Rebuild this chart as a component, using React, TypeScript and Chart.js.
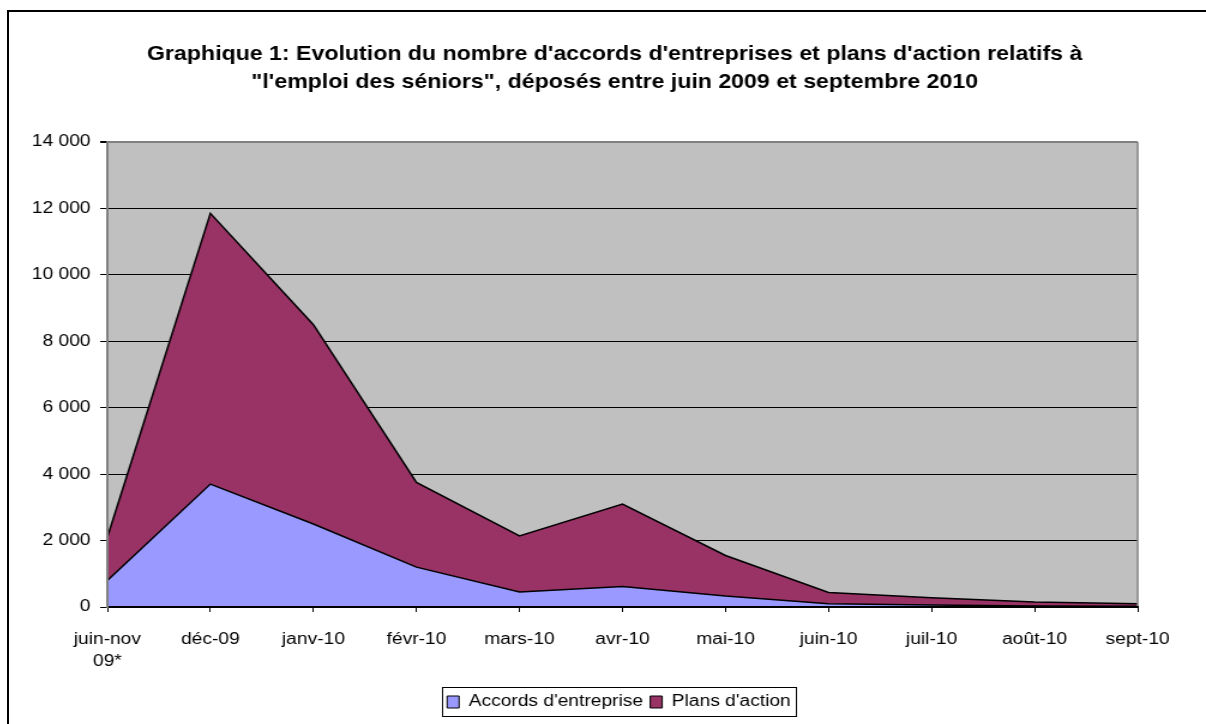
import React, { useEffect, useRef } from 'react';
import { Chart, registerables } from 'chart.js';

Chart.register(...registerables);

const categories: (string | string[])[] = [
  ['juin-nov', '09*'], 'déc-09', 'janv-10', 'févr-10', 'mars-10', 'avr-10',
  'mai-10', 'juin-10', 'juil-10', 'août-10', 'sept-10',
];
const accords = [800, 3700, 2500, 1200, 450, 620, 330, 100, 60, 30, 20];
const plans = [1300, 8150, 6000, 2550, 1690, 2480, 1220, 340, 220, 120, 80];
const seriesNames = ["Accords d'entreprise", "Plans d'action"];
const titleLines = [
  "Graphique 1: Evolution du nombre d'accords d'entreprises et plans d'action relatifs à",
  "\"l'emploi des séniors\", déposés entre juin 2009 et septembre 2010",
];
const yMin = 0;
const yMax = 14000;
const yStep = 2000;

const FONT = "'Liberation Sans', Arial, sans-serif";
const BMP_W = 998;
const BMP_H = 712;

const fmt = (v: number) => String(v).replace(/\B(?=(\d{3})+(?!\d))/g, ' ');

const plotBackground = {
  id: 'plotBackground',
  afterLayout(chart: any) {
    // centre title and legend over the same spot as the reference
    const t = chart.titleBlock;
    if (t) {
      t.left += 34.5;
      t.right += 34.5;
    }
    const lg = chart.legend;
    if (lg) {
      lg.left += 38;
      lg.right += 38;
    }
  },
  beforeDraw(chart: any) {
    const { ctx, chartArea: a } = chart;
    ctx.save();
    ctx.fillStyle = '#C0C0C0';
    ctx.fillRect(a.left, a.top, a.right - a.left, a.bottom - a.top);
    ctx.restore();
  },
  afterDatasetsDraw(chart: any) {
    const { ctx, chartArea: a } = chart;
    ctx.save();
    ctx.strokeStyle = '#808080';
    ctx.lineWidth = 1.5;
    ctx.beginPath();
    ctx.moveTo(a.right, a.top);
    ctx.lineTo(a.right, a.bottom);
    ctx.stroke();
    ctx.restore();
  },
};

const legendFrame = {
  id: 'legendFrame',
  afterDraw(chart: any) {
    const lg = chart.legend;
    if (!lg || !lg.legendHitBoxes || !lg.legendHitBoxes.length) return;
    const hb = lg.legendHitBoxes;
    const first = hb[0];
    const last = hb[hb.length - 1];
    const left = Math.round(first.left - 4) + 0.5;
    const right = Math.round(last.left + last.width + 4) + 0.5;
    const top = Math.round(first.top - 7) + 0.5;
    const bottom = Math.round(first.top + first.height + 6) + 0.5;
    const { ctx } = chart;
    ctx.save();
    ctx.strokeStyle = '#000';
    ctx.lineWidth = 1;
    ctx.strokeRect(left, top, right - left, bottom - top);
    ctx.restore();
  },
};

export default function App() {
  const ref = useRef<HTMLCanvasElement | null>(null);

  useEffect(() => {
    if (!ref.current) return;
    Chart.defaults.color = '#000';
    Chart.defaults.font.family = FONT;
    const chart = new Chart(ref.current, {
      type: 'line',
      data: {
        labels: categories as any,
        datasets: [
          {
            label: seriesNames[0],
            data: accords,
            backgroundColor: '#9999FF',
            borderColor: '#000',
            borderWidth: 1.5,
            fill: 'origin',
            pointRadius: 0,
            tension: 0,
          },
          {
            label: seriesNames[1],
            data: plans,
            backgroundColor: '#993366',
            borderColor: '#000',
            borderWidth: 1.5,
            fill: '-1',
            pointRadius: 0,
            tension: 0,
          },
        ],
      },
      options: {
        responsive: false,
        animation: false,
        events: [],
        layout: { padding: { left: 0, right: 57, top: 0, bottom: 4 } },
        scales: {
          x: {
            offset: false,
            grid: { display: true, drawOnChartArea: false, drawTicks: true, tickLength: 5, color: '#000', lineWidth: 1 },
            border: { display: true, color: '#000', width: 2, z: 1 },
            ticks: {
              autoSkip: false,
              maxRotation: 0,
              minRotation: 0,
              padding: 16,
              color: '#000',
              font: { family: FONT, size: 16, lineHeight: 1.4 },
            },
            afterFit(s: any) { s.height = 81; },
          },
          y: {
            stacked: true,
            min: yMin,
            max: yMax,
            grid: {
              color: (c: any) => (c.tick && c.tick.value === yMax ? '#808080' : '#000'),
              lineWidth: (c: any) => (c.tick && c.tick.value === yMax ? 2 : 1),
              tickColor: '#000',
              tickLength: 6,
            },
            border: { display: true, color: '#808080', width: 2, z: 1 },
            ticks: {
              stepSize: yStep,
              padding: 8,
              color: '#000',
              font: { family: FONT, size: 16 },
              callback: (v: any) => fmt(Number(v)),
            },
            afterFit(s: any) { s.width = 82; },
          },
        },
        plugins: {
          title: {
            display: true,
            text: titleLines,
            color: '#000',
            font: { family: FONT, size: 19.3, weight: 'bold', lineHeight: 28 / 19.3 },
            padding: { top: 29, bottom: 45 },
          },
          legend: {
            display: true,
            position: 'bottom',
            labels: {
              boxWidth: 10,
              boxHeight: 12,
              padding: 6,
              color: '#000',
              font: { family: FONT, size: 16 },
              generateLabels: (ch: any) =>
                Chart.defaults.plugins.legend.labels.generateLabels(ch).map((l: any) => ({ ...l, lineWidth: 1 })),
            },
          },
          tooltip: { enabled: false },
        },
      } as any,
      plugins: [plotBackground, legendFrame],
    });
    return () => chart.destroy();
  }, []);

  return (
    <div
      style={{
        position: 'absolute',
        left: 7,
        top: 10,
        width: 1197,
        height: 712,
        borderTop: '2px solid #000',
        borderLeft: '2px solid #000',
        overflow: 'hidden',
        background: '#fff',
      }}
    >
      <canvas
        ref={ref}
        width={BMP_W}
        height={BMP_H}
        style={{ width: '1197px', height: '712px', display: 'block' }}
      />
    </div>
  );
}
